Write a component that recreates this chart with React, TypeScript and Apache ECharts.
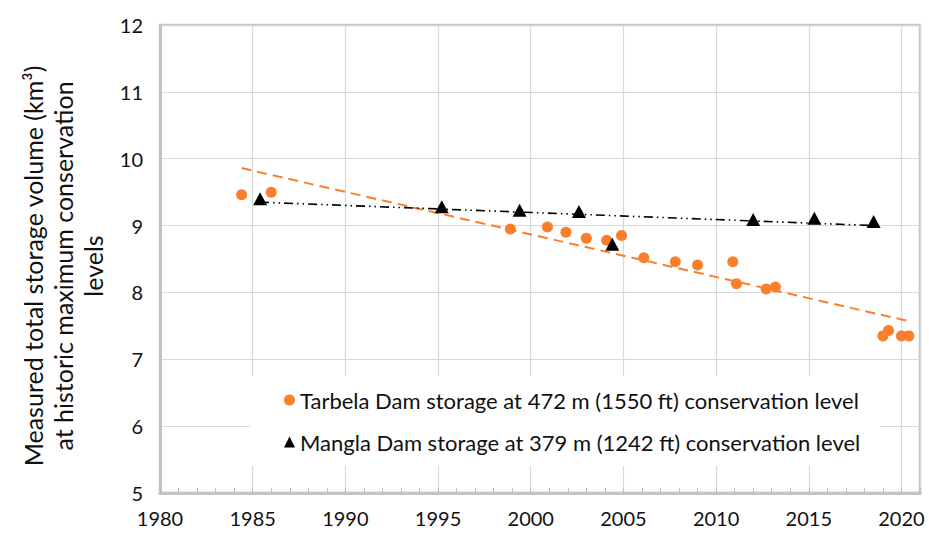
import React, { useEffect, useRef } from "react";
import * as echarts from "echarts";

const tarbelaYears = [1984.4, 1986.0, 1998.9, 2000.9, 2001.9, 2003.0, 2004.1, 2004.9, 2006.1, 2007.8, 2009.0, 2010.9, 2011.1, 2012.7, 2013.2, 2019.0, 2019.3, 2020.0, 2020.4];
const tarbelaStorage = [9.46, 9.5, 8.95, 8.98, 8.9, 8.81, 8.78, 8.85, 8.52, 8.46, 8.41, 8.46, 8.13, 8.05, 8.08, 7.35, 7.43, 7.35, 7.35];

const manglaYears = [1985.4, 1995.2, 1999.4, 2002.6, 2004.4, 2012.0, 2015.3, 2018.5];
const manglaStorage = [9.4, 9.28, 9.23, 9.21, 8.72, 9.09, 9.11, 9.06];

const tarbelaTrendYears = [1984.4, 2020.4];
const tarbelaTrendValues = [9.86, 7.57];
const manglaTrendYears = [1985.4, 2018.5];
const manglaTrendValues = [9.35, 9.0];

const tarbelaName = "Tarbela Dam storage at 472 m (1550 ft) conservation level";
const manglaName = "Mangla Dam storage at 379 m (1242 ft) conservation level";
const yTitleLines = ["Measured total storage volume (km³)", "at historic maximum conservation", "levels"];

const FONT = "Lato";
const ORANGE = "#FB7F2B";

const zip = (xs: number[], ys: number[]) => xs.map((x, i) => [x, ys[i]]);

export default function App() {
  const ref = useRef<HTMLDivElement>(null);
  useEffect(() => {
    if (!ref.current) return;
    const chart = echarts.init(ref.current, undefined, { renderer: "svg" });
    chart.setOption({
      animation: false,
      backgroundColor: "#fff",
      textStyle: { fontFamily: FONT },
      grid: {
        left: 160, right: 9, top: 25, bottom: 42,
        show: true, borderColor: "#c3c3c3", borderWidth: 2.5, backgroundColor: "transparent",
      },
      xAxis: [
        {
          type: "value", min: 1980, max: 2021, interval: 5,
          axisLine: { show: true, lineStyle: { color: "#c3c3c3", width: 3 } },
          axisTick: { show: false },
          splitLine: { show: true, lineStyle: { color: "#d9d9d9", width: 1.2 } },
          axisLabel: {
            color: "#111", fontSize: 20, fontFamily: FONT, margin: 15,
            formatter: (v: number) => (v % 5 === 0 ? String(v) : ""),
          },
        },
        {
          type: "value", min: 1980, max: 2021, interval: 1, position: "bottom",
          axisLine: { show: false },
          axisTick: { show: true, inside: true, length: 5, lineStyle: { color: "#bdbdbd", width: 1 } },
          splitLine: { show: false },
          axisLabel: { show: false },
        },
      ],
      yAxis: {
        type: "value", min: 5, max: 12, interval: 1,
        axisLine: { show: true, lineStyle: { color: "#c3c3c3", width: 3 } },
        axisTick: { show: false },
        splitLine: { show: true, lineStyle: { color: "#d9d9d9", width: 1.2 } },
        axisLabel: { color: "#111", fontSize: 20, fontFamily: FONT, margin: 17 },
      },
      legend: {
        orient: "vertical",
        left: 250, top: 376,
        padding: [11, 20, 11, 34],
        backgroundColor: "#fff",
        itemGap: 16,
        itemWidth: 11, itemHeight: 11,
        textStyle: { color: "#111", fontSize: 22, fontFamily: FONT, lineHeight: 26 },
        data: [
          { name: tarbelaName, icon: "circle" },
          { name: manglaName, icon: "triangle" },
        ],
      },
      graphic: [
        {
          type: "text",
          x: 63, y: 266,
          rotation: Math.PI / 2,
          style: {
            text: yTitleLines.join("\n"),
            fontSize: 25, fontFamily: FONT, fill: "#111",
            align: "center", verticalAlign: "middle", lineHeight: 30,
          },
        },
      ],
      series: [
        {
          name: "tarbelaTrend", type: "line", xAxisIndex: 0,
          data: zip(tarbelaTrendYears, tarbelaTrendValues),
          showSymbol: false, symbol: "none",
          lineStyle: { color: ORANGE, width: 2, type: [10, 6] },
          z: 2,
        },
        {
          name: "manglaTrend", type: "line", xAxisIndex: 0,
          data: zip(manglaTrendYears, manglaTrendValues),
          showSymbol: false, symbol: "none",
          lineStyle: { color: "#000", width: 1.6, type: [9, 4, 1.5, 4, 1.5, 4] },
          z: 2,
        },
        {
          name: tarbelaName, type: "scatter", xAxisIndex: 0,
          data: zip(tarbelaYears, tarbelaStorage),
          symbol: "circle", symbolSize: 11,
          itemStyle: { color: ORANGE, opacity: 1 },
          z: 3,
        },
        {
          name: manglaName, type: "scatter", xAxisIndex: 0,
          data: zip(manglaYears, manglaStorage),
          symbol: "triangle", symbolSize: [14, 13],
          itemStyle: { color: "#000", opacity: 1 },
          z: 4,
        },
      ],
    });
    return () => chart.dispose();
  }, []);
  return <div ref={ref} style={{ width: 929, height: 535, position: "absolute", left: 0, top: 0 }} />;
}
